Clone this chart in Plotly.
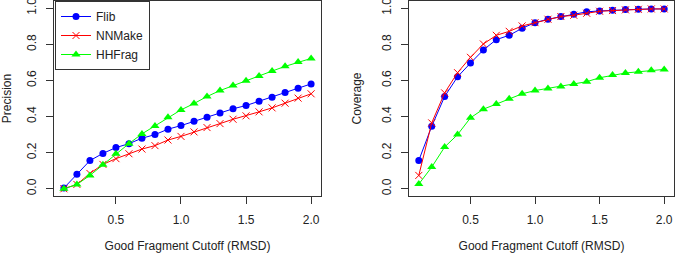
import plotly.graph_objects as go
from plotly.subplots import make_subplots

cutoff = [0.1, 0.2, 0.3, 0.4, 0.5, 0.6, 0.7, 0.8, 0.9, 1.0,
          1.1, 1.2, 1.3, 1.4, 1.5, 1.6, 1.7, 1.8, 1.9, 2.0]

prec_flib = [0.004, 0.081, 0.156, 0.196, 0.228, 0.25, 0.28, 0.30, 0.33, 0.35,
             0.374, 0.396, 0.42, 0.443, 0.461, 0.485, 0.507, 0.533, 0.557, 0.581]
prec_nnmake = [0.0, 0.024, 0.085, 0.135, 0.167, 0.194, 0.22, 0.239, 0.27, 0.29,
               0.315, 0.339, 0.361, 0.385, 0.404, 0.426, 0.448, 0.474, 0.502, 0.526]
prec_hhfrag = [0.0, 0.024, 0.074, 0.133, 0.194, 0.25, 0.304, 0.348, 0.396, 0.437,
               0.472, 0.511, 0.544, 0.572, 0.598, 0.624, 0.652, 0.678, 0.702, 0.722]

cov_flib = [0.157, 0.346, 0.511, 0.62, 0.696, 0.769, 0.826, 0.85, 0.889, 0.92,
            0.939, 0.954, 0.967, 0.98, 0.985, 0.989, 0.993, 0.994, 0.996, 0.996]
cov_nnmake = [0.074, 0.365, 0.531, 0.643, 0.728, 0.802, 0.85, 0.872, 0.902, 0.92,
              0.939, 0.954, 0.961, 0.972, 0.983, 0.987, 0.991, 0.994, 0.996, 0.996]
cov_hhfrag = [0.026, 0.12, 0.231, 0.30, 0.393, 0.441, 0.469, 0.498, 0.526, 0.544,
              0.556, 0.567, 0.58, 0.593, 0.615, 0.63, 0.641, 0.648, 0.656, 0.661]

series_names = ["Flib", "NNMake", "HHFrag"]
x_tickvals = [0.5, 1.0, 1.5, 2.0]
x_ticktext = ["0.5", "1.0", "1.5", "2.0"]
y_tickvals = [0.0, 0.2, 0.4, 0.6, 0.8, 1.0]
y_ticktext = ["0.0", "0.2", "0.4", "0.6", "0.8", "1.0"]

colors = ["#0000FF", "#FF0000", "#00FF00"]
symbols = ["circle", "x-thin-open", "triangle-up"]
msizes = [7, 7, 8]

FONT = "Liberation Sans, Arial, Helvetica, sans-serif"
TXT = "#222222"

fig = make_subplots(rows=1, cols=2)

panels = [(prec_flib, prec_nnmake, prec_hhfrag), (cov_flib, cov_nnmake, cov_hhfrag)]
for col, data in enumerate(panels, start=1):
    for i, ys in enumerate(data):
        fig.add_trace(go.Scatter(
            x=cutoff, y=ys, mode="lines+markers", name=series_names[i],
            showlegend=(col == 1),
            line=dict(color=colors[i], width=1),
            marker=dict(symbol=symbols[i], size=msizes[i], color=colors[i],
                        line=dict(color=colors[i], width=1 if i == 1 else 0)),
        ), row=1, col=col)

axis_common = dict(showgrid=False, zeroline=False, showline=True, mirror=True,
                   linecolor="#333333", linewidth=1, ticks="outside", ticklen=7,
                   tickcolor="#333333", tickfont=dict(family=FONT, size=12, color=TXT),
                   automargin=False, ticklabeloverflow="allow")

xaxis_common = dict(range=[0.024, 2.076], tickvals=x_tickvals, ticktext=x_ticktext,
                    ticklabelstandoff=6,
                    title=dict(text="Good Fragment Cutoff (RMSD)", standoff=22,
                               font=dict(family=FONT, size=12, color=TXT)),
                    **axis_common)

ydom = [57 / 253, 252 / 253]
fig.update_layout(
    width=676, height=253,
    margin=dict(l=0, r=0, t=0, b=0),
    paper_bgcolor="white", plot_bgcolor="white",
    font=dict(family=FONT, size=12, color=TXT),
    legend=dict(x=55 / 676, y=1 - 1 / 253, xanchor="left", yanchor="top",
                bordercolor="#333333", borderwidth=1, bgcolor="white",
                font=dict(family=FONT, size=12, color=TXT),
                tracegroupgap=0, itemwidth=30),
    xaxis=dict(domain=[54 / 676, 321 / 676], **xaxis_common),
    xaxis2=dict(domain=[409 / 676, 674 / 676], **xaxis_common),
    yaxis=dict(domain=ydom, range=[-0.04, 1.04], tickvals=y_tickvals, ticktext=y_ticktext,
               tickangle=-90, ticklabelstandoff=5,
               title=dict(text="Precision", standoff=16,
                          font=dict(family=FONT, size=12, color=TXT)),
               **axis_common),
    yaxis2=dict(domain=ydom, range=[-0.04, 1.04], tickvals=y_tickvals, ticktext=y_ticktext,
                tickangle=-90, ticklabelstandoff=5,
                title=dict(text="Coverage", standoff=16,
                           font=dict(family=FONT, size=12, color=TXT)),
                **axis_common),
)

fig.write_html("out.html", config={"displayModeBar": False},
               post_script="document.body.style.margin='0';")
